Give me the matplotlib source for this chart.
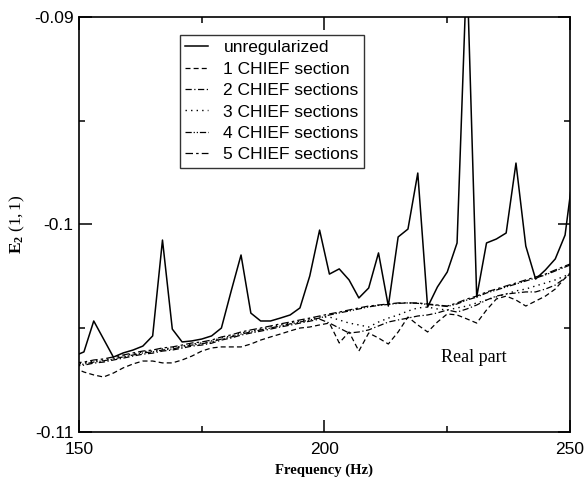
import matplotlib
matplotlib.use("Agg")
import matplotlib.pyplot as plt
from matplotlib.ticker import MultipleLocator

plt.rcParams["font.family"] = ["Liberation Sans", "DejaVu Sans"]
plt.rcParams["axes.unicode_minus"] = False
plt.rcParams["mathtext.fontset"] = "custom"
plt.rcParams["mathtext.rm"] = "Liberation Serif"
plt.rcParams["mathtext.it"] = "Liberation Serif:italic"
plt.rcParams["mathtext.bf"] = "Liberation Serif:bold"

# frequency grid (Hz), every 2 Hz
freq = list(range(149, 252, 2))

unregularized = [
    -0.10634, -0.10614, -0.10465, -0.10552, -0.10639, -0.10619, -0.10605, -0.10586,
    -0.10537, -0.10075, -0.10504, -0.10566, -0.10561, -0.10552, -0.10537, -0.10499,
    -0.10320, -0.10147, -0.10427, -0.10465, -0.10465, -0.10451, -0.10436, -0.10402,
    -0.10248, -0.10027, -0.10239, -0.10214, -0.10267, -0.10354, -0.10306, -0.10137,
    -0.10393, -0.10060, -0.10022, -0.09752, -0.10398, -0.10301, -0.10229, -0.10089,
    -0.08749, -0.10349, -0.10089, -0.10070, -0.10041, -0.09704, -0.10104, -0.10263,
    -0.10219, -0.10166, -0.10051, -0.09684,
]

chief_1 = [
    -0.10691, -0.10711, -0.10725, -0.10735, -0.10716, -0.10691, -0.10672, -0.10658,
    -0.10658, -0.10667, -0.10667, -0.10653, -0.10634, -0.10610, -0.10595, -0.10590,
    -0.10590, -0.10590, -0.10576, -0.10557, -0.10542, -0.10528, -0.10513, -0.10499,
    -0.10494, -0.10484, -0.10475, -0.10571, -0.10518, -0.10610, -0.10523, -0.10547,
    -0.10576, -0.10518, -0.10446, -0.10484, -0.10518, -0.10470, -0.10431, -0.10436,
    -0.10455, -0.10475, -0.10412, -0.10359, -0.10345, -0.10364, -0.10393, -0.10369,
    -0.10345, -0.10311, -0.10258, -0.10210,
]

chief_2 = [
    -0.10682, -0.10678, -0.10668, -0.10663, -0.10653, -0.10644, -0.10634, -0.10625,
    -0.10620, -0.10610, -0.10605, -0.10596, -0.10586, -0.10581, -0.10572, -0.10557,
    -0.10547, -0.10533, -0.10523, -0.10514, -0.10504, -0.10494, -0.10485, -0.10475,
    -0.10466, -0.10456, -0.10475, -0.10499, -0.10523, -0.10518, -0.10508, -0.10489,
    -0.10470, -0.10460, -0.10451, -0.10441, -0.10436, -0.10426, -0.10412, -0.10422,
    -0.10407, -0.10388, -0.10364, -0.10345, -0.10335, -0.10330, -0.10325, -0.10325,
    -0.10311, -0.10292, -0.10258, -0.10219,
]

chief_3 = [
    -0.10672, -0.10667, -0.10658, -0.10653, -0.10643, -0.10634, -0.10624, -0.10614,
    -0.10610, -0.10600, -0.10595, -0.10586, -0.10576, -0.10571, -0.10561, -0.10547,
    -0.10537, -0.10523, -0.10513, -0.10504, -0.10494, -0.10484, -0.10475, -0.10465,
    -0.10455, -0.10446, -0.10446, -0.10460, -0.10475, -0.10484, -0.10494, -0.10470,
    -0.10451, -0.10436, -0.10417, -0.10402, -0.10398, -0.10407, -0.10412, -0.10402,
    -0.10393, -0.10378, -0.10364, -0.10349, -0.10335, -0.10320, -0.10311, -0.10296,
    -0.10282, -0.10267, -0.10248, -0.10224,
]

chief_4 = [
    -0.10677, -0.10673, -0.10663, -0.10657, -0.10648, -0.10638, -0.10629, -0.10619,
    -0.10614, -0.10605, -0.10600, -0.10590, -0.10581, -0.10575, -0.10566, -0.10552,
    -0.10542, -0.10528, -0.10518, -0.10508, -0.10499, -0.10489, -0.10479, -0.10470,
    -0.10460, -0.10451, -0.10436, -0.10426, -0.10417, -0.10407, -0.10397, -0.10390,
    -0.10385, -0.10380, -0.10378, -0.10380, -0.10385, -0.10390, -0.10395, -0.10383,
    -0.10364, -0.10350, -0.10330, -0.10316, -0.10301, -0.10287, -0.10272, -0.10258,
    -0.10243, -0.10224, -0.10205, -0.10186,
]

chief_5 = [
    -0.10667, -0.10663, -0.10653, -0.10648, -0.10638, -0.10629, -0.10619, -0.10610,
    -0.10605, -0.10595, -0.10590, -0.10581, -0.10571, -0.10566, -0.10557, -0.10542,
    -0.10532, -0.10518, -0.10508, -0.10499, -0.10489, -0.10479, -0.10470, -0.10460,
    -0.10451, -0.10441, -0.10431, -0.10422, -0.10412, -0.10402, -0.10393, -0.10388,
    -0.10383, -0.10378, -0.10378, -0.10378, -0.10383, -0.10388, -0.10393, -0.10378,
    -0.10359, -0.10345, -0.10325, -0.10311, -0.10296, -0.10282, -0.10267, -0.10253,
    -0.10239, -0.10219, -0.10200, -0.10181,
]

labels = ["unregularized", "1 CHIEF section", "2 CHIEF sections",
          "3 CHIEF sections", "4 CHIEF sections", "5 CHIEF sections"]

fig = plt.figure(figsize=(5.84, 4.8), dpi=100)
ax = fig.add_axes([0.1353, 0.1, 0.8407, 0.8646])

ax.plot(freq, unregularized, color="black", lw=1.1, label=labels[0])
ax.plot(freq, chief_1, color="black", lw=0.9, ls=(0, (4, 2.5)), label=labels[1])
ax.plot(freq, chief_2, color="black", lw=0.9, ls=(0, (5, 2, 1, 2)), label=labels[2])
ax.plot(freq, chief_3, color="black", lw=1.0, ls=(0, (1, 3)), label=labels[3])
ax.plot(freq, chief_4, color="black", lw=0.9, ls=(0, (5, 1.5, 1, 1.5, 1, 1.5)), label=labels[4])
ax.plot(freq, chief_5, color="black", lw=0.9, ls=(0, (6, 2.5, 2, 2.5)), label=labels[5])

ax.set_xlim(150, 250)
ax.set_ylim(-0.11, -0.09)
ax.set_xticks([150, 200, 250])
ax.set_xticklabels(["150", "200", "250"])
ax.set_yticks([-0.11, -0.1, -0.09])
ax.set_yticklabels(["-0.11", "-0.1", "-0.09"])
ax.xaxis.set_minor_locator(MultipleLocator(25))
ax.yaxis.set_minor_locator(MultipleLocator(0.005))
ax.tick_params(which="both", direction="in", top=True, right=True, width=1.1, labelsize=12.5)
ax.tick_params(which="major", length=9)
ax.tick_params(which="minor", length=4.5)
ax.tick_params(axis="y", pad=4)
ax.tick_params(axis="x", pad=7)
for s in ax.spines.values():
    s.set_linewidth(1.2)

ax.set_xlabel("Frequency (Hz)", family="Liberation Serif", fontweight="bold", fontsize=10.5, labelpad=5)
ax.set_ylabel(r"$\mathbf{E}_{\mathbf{2}}\ \mathit{(1,1)}$", fontsize=12.5, labelpad=5)

ax.text(230.4, -0.1064, "Real part", family="Liberation Serif", fontsize=13,
        ha="center", va="center")

leg = ax.legend(loc="upper left", bbox_to_anchor=(0.2057, 0.9566), borderaxespad=0,
                fontsize=12.5, frameon=True, fancybox=False, edgecolor="black",
                handlelength=1.3, handletextpad=0.9, labelspacing=0.36,
                borderpad=0.3)
leg.get_frame().set_linewidth(1.0)

fig.savefig("out.png", dpi=100)
